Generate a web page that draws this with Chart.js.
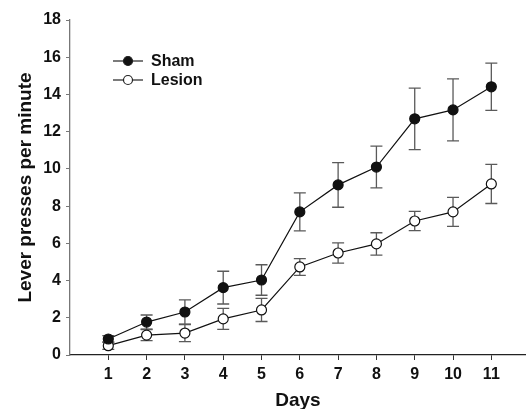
<!DOCTYPE html>
<html>
<head>
<meta charset="utf-8">
<script src="https://cdn.jsdelivr.net/npm/chart.js@4.4.1/dist/chart.umd.min.js"></script>
<style>
  html, body { margin: 0; padding: 0; background: #fff; }
  #wrap { width: 532px; height: 409px; }
</style>
</head>
<body>
<div id="wrap"><canvas id="leverChart" width="532" height="409"></canvas></div>
<script>
// Datos
const days = [1, 2, 3, 4, 5, 6, 7, 8, 9, 10, 11];
const shamMean = [0.86, 1.77, 2.31, 3.62, 4.03, 7.69, 9.14, 10.1, 12.69, 13.17, 14.41];
const shamErr  = [0.18, 0.38, 0.65, 0.88, 0.82, 1.02, 1.2, 1.12, 1.65, 1.67, 1.27];
const lesionMean = [0.5, 1.07, 1.18, 1.94, 2.42, 4.73, 5.48, 5.97, 7.2, 7.69, 9.19];
const lesionErr  = [0.2, 0.3, 0.46, 0.56, 0.62, 0.45, 0.54, 0.6, 0.52, 0.78, 1.05];
const yTicks = [0, 2, 4, 6, 8, 10, 12, 14, 16, 18];

const FONT = '"Liberation Sans", Arial, sans-serif';

const toPoints = (means) => days.map((d, i) => ({ x: d, y: means[i] }));

/**
 * Barras de error (dibujadas detrás de los puntos)
 */
const errorBars = {
    id: 'errorBars',
    beforeDatasetsDraw(chart) {
        const { ctx, scales: { x, y } } = chart;
        const errs = [shamErr, lesionErr];
        ctx.save();
        ctx.strokeStyle = '#5a5a5a';
        ctx.lineWidth = 1.3;
        chart.data.datasets.forEach((ds, k) => {
            ds.data.forEach((p, i) => {
                const px = x.getPixelForValue(p.x);
                const top = y.getPixelForValue(p.y + errs[k][i]);
                const bot = y.getPixelForValue(p.y - errs[k][i]);
                ctx.beginPath();
                ctx.moveTo(px, top); ctx.lineTo(px, bot);
                ctx.moveTo(px - 6, top); ctx.lineTo(px + 6, top);
                ctx.moveTo(px - 6, bot); ctx.lineTo(px + 6, bot);
                ctx.stroke();
            });
        });
        ctx.restore();
    }
};

/**
 * Leyenda dentro del área del gráfico
 */
const insetLegend = {
    id: 'insetLegend',
    afterDraw(chart) {
        const { ctx } = chart;
        ctx.save();
        ctx.font = 'bold 16px ' + FONT;
        ctx.textBaseline = 'middle';
        chart.data.datasets.forEach((ds, k) => {
            const yy = 61 + k * 19;
            ctx.strokeStyle = '#222';
            ctx.lineWidth = 1.2;
            ctx.beginPath();
            ctx.moveTo(113, yy); ctx.lineTo(143, yy);
            ctx.stroke();
            ctx.beginPath();
            ctx.arc(128, yy, 4.5, 0, Math.PI * 2);
            ctx.fillStyle = ds.pointBackgroundColor;
            ctx.fill();
            ctx.stroke();
            ctx.fillStyle = '#111';
            ctx.fillText(ds.label, 151, yy + 1);
        });
        ctx.restore();
    }
};

const seriesStyle = (fill) => ({
    borderColor: '#111',
    borderWidth: 1.2,
    pointRadius: 5,
    pointHoverRadius: 5,
    pointBackgroundColor: fill,
    pointBorderColor: '#111',
    pointBorderWidth: 1.2,
    tension: 0,
    fill: false
});

new Chart(document.getElementById('leverChart'), {
    type: 'line',
    data: {
        datasets: [
            { label: 'Sham', data: toPoints(shamMean), ...seriesStyle('#111') },
            { label: 'Lesion', data: toPoints(lesionMean), ...seriesStyle('#fff') }
        ]
    },
    options: {
        responsive: false,
        animation: false,
        layout: { padding: { top: 20, left: 0, right: 0, bottom: 0 } },
        plugins: {
            legend: { display: false },
            tooltip: { enabled: false }
        },
        scales: {
            x: {
                type: 'linear',
                min: 0,
                max: 11.9,
                afterBuildTicks: (scale) => { scale.ticks = days.map(v => ({ value: v })); },
                afterFit: (scale) => { scale.height = 54; },
                ticks: {
                    color: '#111',
                    font: { family: FONT, size: 16, weight: 'bold' },
                    padding: 5,
                    maxRotation: 0,
                    autoSkip: false
                },
                grid: { drawOnChartArea: false, drawTicks: true, tickLength: 5, color: '#333' },
                border: { color: '#222', width: 1.3 },
                title: {
                    display: true,
                    text: 'Days',
                    color: '#111',
                    font: { family: FONT, size: 19, weight: 'bold', lineHeight: 0.9 },
                    padding: { top: 0, bottom: 0 }
                }
            },
            y: {
                min: 0,
                max: 18,
                afterBuildTicks: (scale) => { scale.ticks = yTicks.map(v => ({ value: v })); },
                afterFit: (scale) => { scale.width = 70; },
                ticks: {
                    color: '#111',
                    font: { family: FONT, size: 16, weight: 'bold' },
                    padding: 5
                },
                grid: { drawOnChartArea: false, drawTicks: true, tickLength: 4, color: '#777' },
                border: { color: '#777', width: 1.3 },
                title: {
                    display: true,
                    text: 'Lever presses per minute',
                    color: '#111',
                    font: { family: FONT, size: 19, weight: 'bold' },
                    padding: { top: 14, bottom: 0 }
                }
            }
        }
    },
    plugins: [errorBars, insetLegend]
});
</script>
</body>
</html>
